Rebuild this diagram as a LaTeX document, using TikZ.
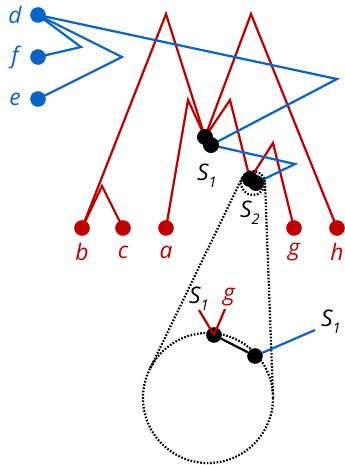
\documentclass[tikz,border=0pt]{standalone}
\usepackage{fontspec}
\setmainfont{Open Sans}
\usetikzlibrary{calc}
\definecolor{treeblue}{HTML}{0A64C8}
\definecolor{treered}{HTML}{C00000}
\tikzset{
  leafr/.style={circle, fill=treered, inner sep=0pt, minimum size=0.47cm},
  leafb/.style={circle, fill=treeblue, inner sep=0pt, minimum size=0.47cm},
  junc/.style={circle, fill=black, inner sep=0pt, minimum size=0.47cm},
  lbl/.style={font=\fontsize{19.5}{22}\selectfont\itshape, inner sep=1pt},
  redln/.style={draw=treered, line width=1.9pt, line join=miter},
  blueln/.style={draw=treeblue, line width=1.9pt, line join=miter},
  zoomln/.style={draw=black, line width=1.9pt, dash pattern=on 1.4pt off 1.4pt},
}
\newcommand{\subl}[2]{#1\raisebox{-0.32em}{\fontsize{12.5}{14}\selectfont #2}}

\begin{document}
\begin{tikzpicture}[x=0.03cm, y=-0.03cm]
  \useasboundingbox (0,0) rectangle (345,465);

  % leaves of the two trees
  \node[leafb] (d) at (38,15) {};
  \node[leafb] (f) at (38,57) {};
  \node[leafb] (e) at (38,99) {};
  \foreach \n/\x in {b/82,c/123,a/166,g/294,h/337}{
    \node[leafr] (\n) at (\x,228) {};
    \node[lbl, text=treered] at (\x,252) {\n};
  }
  \foreach \n/\y in {d/15,f/57,e/99}
    \node[lbl, text=treeblue] at (15,\y) {\n};

  % the two junctions
  \node[junc] (s1a) at (205,137) {};
  \node[junc] (s1b) at (211,145) {};
  \node[junc] (s2a) at (250,179) {};
  \node[junc] (s2b) at (256,183) {};
  \node[lbl] at (207,176) {\subl{S}{1}};
  \node[lbl] at (250,213) {\subl{S}{2}};

  % peaks
  \coordinate (p1) at (166,14);
  \coordinate (p2) at (251,14);
  \coordinate (p3) at (188,100);
  \coordinate (p4) at (230,100);
  \coordinate (p5) at (273,143);
  \coordinate (pbc) at (102,186);
  \coordinate (q1) at (81,47);
  \coordinate (q2) at (122,57);
  \coordinate (q3) at (337,79);
  \coordinate (q4) at (295,164);

  % red tree
  \draw[redln] (b.center) -- (pbc) -- (c.center);
  \draw[redln] (b.center) -- (p1) -- (s1a.center);
  \draw[redln] (a.center) -- (p3) -- (s1a.center);
  \draw[redln] (s1a.center) -- (p2) -- (h.center);
  \draw[redln] (s1a.center) -- (p4) -- (s2a.center);
  \draw[redln] (s2a.center) -- (p5) -- (g.center);

  % blue tree
  \draw[blueln] (d.center) -- (q1) -- (f.center);
  \draw[blueln] (d.center) -- (q2) -- (e.center);
  \draw[blueln] (d.center) -- (q3) -- (s1b.center);
  \draw[blueln] (s1b.center) -- (q4) -- (s2b.center);

  % redraw junctions on top
  \foreach \j in {s1a,s1b,s2a,s2b}
    \fill (\j) circle (0.235cm);

  % zoom cone
  \coordinate (zc) at (253,183);
  \coordinate (Zc) at (208,398);
  \draw[zoomln] (zc) circle (12);
  \draw[zoomln] (Zc) circle (65);
  \draw[zoomln] (242.2,177.8) -- (149.5,369.7);
  \draw[zoomln] (265,182.6) -- (273,395.6);

  % inset
  \node[junc] (m1) at (214,335) {};
  \node[junc] (m2) at (255,356) {};
  \coordinate (r1) at (199,310);
  \coordinate (r2) at (225,309);
  \coordinate (r3) at (315,330);
  \draw[black, line width=1.9pt] (m1) -- (m2);
  \draw[redln] (m1.center) -- (r1);
  \draw[redln] (m1.center) -- (r2);
  \draw[blueln] (m2) -- (r3);
  \node[lbl] at (199,299) {\subl{S}{1}};
  \node[lbl, text=treered] at (229,297) {g};
  \node[lbl] at (331,322) {\subl{S}{1}};
\end{tikzpicture}
\end{document}
